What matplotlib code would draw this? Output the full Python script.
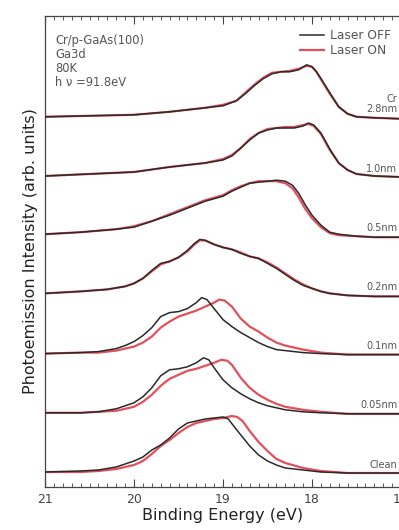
import matplotlib
matplotlib.use("Agg")
import matplotlib.pyplot as plt
from matplotlib.ticker import MultipleLocator

# Ga 3d core-level spectra (intensity above each trace's own baseline, arb. units)
labels = ["Clean", "0.05nm", "0.1nm", "0.2nm", "0.5nm", "1.0nm", "Cr\n2.8nm"]

e_clean_off = [21.0, 20.6, 20.4, 20.2, 20.1, 20.0, 19.9, 19.8, 19.7, 19.6, 19.5, 19.4, 19.3, 19.2, 19.1, 19.0, 18.94, 18.88, 18.8, 18.7, 18.6, 18.5, 18.4, 18.3, 18.1, 17.9, 17.6, 17.3, 17.0]
i_clean_off = [1, 2, 3, 6, 9, 12, 16, 23, 28, 35, 44, 50, 52, 54, 55, 56, 54, 47, 38, 27, 18, 12, 8, 5, 3, 1, 0, 0, 0]
e_clean_on = [21.0, 20.6, 20.4, 20.2, 20.1, 20.0, 19.9, 19.8, 19.7, 19.6, 19.5, 19.4, 19.3, 19.2, 19.1, 19.0, 18.9, 18.84, 18.78, 18.7, 18.6, 18.5, 18.4, 18.3, 18.1, 17.9, 17.6, 17.3, 17.0]
i_clean_on = [1, 1, 2, 4, 6, 8, 12, 19, 27, 33, 40, 46, 50, 52, 54, 55, 57, 56, 52, 42, 31, 22, 14, 10, 5, 2, 0, 0, 0]

e_005_off = [21.0, 20.6, 20.4, 20.2, 20.1, 20.0, 19.9, 19.8, 19.7, 19.6, 19.5, 19.4, 19.3, 19.22, 19.16, 19.1, 19.0, 18.9, 18.8, 18.7, 18.6, 18.5, 18.4, 18.3, 18.1, 17.9, 17.6, 17.3, 17.0]
i_005_off = [1, 1, 2, 5, 8, 11, 17, 26, 38, 44, 45, 47, 51, 56, 54, 46, 34, 26, 20, 15, 11, 8, 6, 4, 2, 1, 0, 0, 0]
e_005_on = [21.0, 20.6, 20.4, 20.2, 20.1, 20.0, 19.9, 19.8, 19.7, 19.6, 19.5, 19.4, 19.3, 19.2, 19.1, 19.02, 18.95, 18.9, 18.8, 18.7, 18.6, 18.5, 18.4, 18.3, 18.1, 17.9, 17.6, 17.3, 17.0]
i_005_on = [1, 1, 2, 3, 5, 7, 12, 19, 28, 35, 39, 43, 45, 48, 51, 54, 53, 49, 36, 26, 19, 14, 10, 7, 4, 2, 0, 0, 0]

e_01_off = [21.0, 20.6, 20.4, 20.2, 20.1, 20.0, 19.9, 19.8, 19.7, 19.6, 19.5, 19.4, 19.3, 19.24, 19.18, 19.1, 19.0, 18.9, 18.8, 18.7, 18.6, 18.5, 18.4, 18.3, 18.1, 17.9, 17.6, 17.3, 17.0]
i_01_off = [1, 2, 3, 6, 9, 13, 19, 27, 38, 42, 43, 46, 52, 57, 55, 46, 35, 28, 22, 17, 12, 8, 5, 4, 2, 1, 0, 0, 0]
e_01_on = [21.0, 20.6, 20.4, 20.2, 20.1, 20.0, 19.9, 19.8, 19.7, 19.6, 19.5, 19.4, 19.3, 19.2, 19.1, 19.04, 18.98, 18.9, 18.8, 18.7, 18.6, 18.5, 18.4, 18.3, 18.1, 17.9, 17.6, 17.3, 17.0]
i_01_on = [1, 2, 2, 4, 6, 8, 12, 18, 27, 33, 38, 41, 44, 48, 52, 55, 54, 48, 36, 28, 23, 17, 12, 9, 5, 2, 0, 0, 0]

e_02 = [21.0, 20.6, 20.3, 20.1, 20.0, 19.9, 19.8, 19.7, 19.6, 19.5, 19.4, 19.32, 19.26, 19.2, 19.1, 19.0, 18.9, 18.8, 18.7, 18.6, 18.5, 18.4, 18.3, 18.2, 18.1, 18.0, 17.9, 17.8, 17.6, 17.3, 17.0]
i_02_off = [2, 4, 6, 9, 12, 17, 25, 32, 34, 38, 45, 52, 56, 55, 51, 48, 46, 42, 39, 37, 32, 27, 21, 15, 10, 7, 4, 2, 0, -1, -1]
i_02_on = [2, 4, 6, 9, 12, 17, 24, 31, 34, 38, 44, 51, 55, 55, 51, 48, 46, 43, 39, 37, 33, 28, 22, 16, 11, 7, 4, 2, 0, -1, -1]

e_05 = [21.0, 20.6, 20.2, 20.0, 19.8, 19.6, 19.4, 19.2, 19.0, 18.9, 18.8, 18.7, 18.6, 18.5, 18.4, 18.3, 18.22, 18.15, 18.08, 18.0, 17.9, 17.8, 17.7, 17.5, 17.3, 17.0]
i_05_off = [2, 4, 7, 9, 15, 21, 28, 35, 40, 45, 49, 53, 54, 55, 56, 55, 51, 43, 32, 21, 11, 4, 2, 0, -1, -1]
i_05_on = [2, 4, 7, 10, 15, 22, 29, 36, 41, 46, 50, 53, 55, 55, 55, 53, 48, 39, 28, 18, 9, 3, 1, 0, -1, -1]

e_10 = [21.0, 20.5, 20.0, 19.6, 19.2, 19.0, 18.9, 18.8, 18.7, 18.6, 18.5, 18.4, 18.3, 18.2, 18.1, 18.04, 17.98, 17.9, 17.8, 17.7, 17.6, 17.5, 17.3, 17.0]
i_10_off = [1, 3, 5, 10, 14, 17, 21, 29, 37, 44, 47, 49, 49, 49, 51, 54, 52, 44, 28, 14, 7, 3, 1, 0]
i_10_on = [1, 3, 5, 10, 14, 18, 22, 29, 38, 44, 48, 49, 50, 50, 52, 53, 51, 43, 27, 14, 7, 3, 1, 0]

e_28 = [21.0, 20.5, 20.0, 19.6, 19.2, 19.0, 18.85, 18.75, 18.65, 18.55, 18.45, 18.35, 18.25, 18.15, 18.06, 18.0, 17.95, 17.89, 17.8, 17.7, 17.6, 17.5, 17.3, 17.0]
i_28_off = [1, 2, 3, 6, 10, 12, 17, 24, 32, 39, 44, 46, 46, 48, 53, 51, 46, 38, 25, 11, 4, 1, 0, -1]
i_28_on = [1, 2, 3, 6, 10, 13, 17, 25, 33, 40, 45, 46, 47, 49, 52, 51, 46, 37, 24, 11, 4, 1, 0, -1]

traces = [
    (e_clean_off, i_clean_off, e_clean_on, i_clean_on),
    (e_005_off, i_005_off, e_005_on, i_005_on),
    (e_01_off, i_01_off, e_01_on, i_01_on),
    (e_02, i_02_off, e_02, i_02_on),
    (e_05, i_05_off, e_05, i_05_on),
    (e_10, i_10_off, e_10, i_10_on),
    (e_28, i_28_off, e_28, i_28_on),
]

tick_values = [21, 20, 19, 18, 17]
tick_labels = ["21", "20", "19", "18", "17"]

W, H = 399, 530
fig = plt.figure(figsize=(W / 100, H / 100), dpi=100)
ax = fig.add_axes([45 / W, (H - 487) / H, (401 - 45) / W, (487 - 16) / H])

base0 = 14.0
step = 59.2
red = "#e2505c"
black = "#2a2a2a"

for k, (eo, io, en, ion) in enumerate(traces):
    off = base0 + k * step
    ax.plot(en, [v + off for v in ion], color=red, lw=1.6, solid_joinstyle="round",
            label="Laser ON" if k == 0 else None, zorder=2)
    ax.plot(eo, [v + off for v in io], color=black, lw=1.1, solid_joinstyle="round",
            label="Laser OFF" if k == 0 else None, zorder=3)
    ax.text(17.04, off + 3.5, labels[k], ha="right", va="bottom", fontsize=7,
            color="#555555", linespacing=1.05)

ax.set_xlim(21, 17)
ax.set_ylim(0, 471)
ax.set_yticks([])
ax.xaxis.set_major_locator(MultipleLocator(1))
ax.xaxis.set_minor_locator(MultipleLocator(0.1))
ax.tick_params(axis="x", which="major", direction="in", length=6, width=0.8,
               top=True, labelsize=9, labelcolor="#444444", color="#444444", pad=4)
ax.tick_params(axis="x", which="minor", direction="in", length=3, width=0.6,
               top=True, color="#444444")
ax.set_xticks(tick_values)
ax.set_xticklabels(tick_labels)
for s in ax.spines.values():
    s.set_color("#444444")
    s.set_linewidth(0.9)

ax.set_xlabel("Binding Energy (eV)", fontsize=11.5, color="#222222", labelpad=2)
ax.set_ylabel("Photoemission Intensity (arb. units)", fontsize=11.5, color="#222222", labelpad=5)

info = "Cr/p-GaAs(100)\nGa3d\n80K\nh \u03bd =91.8eV"
ax.text(0.028, 0.962, info, transform=ax.transAxes, ha="left", va="top",
        fontsize=8.3, color="#555555", linespacing=1.12)

handles, hl = ax.get_legend_handles_labels()
order = [hl.index("Laser OFF"), hl.index("Laser ON")]
ax.legend([handles[i] for i in order], [hl[i] for i in order], loc="upper right",
          bbox_to_anchor=(0.995, 0.99), frameon=False, fontsize=8.8,
          handlelength=2.0, handletextpad=0.45, labelspacing=0.15, labelcolor="#555555",
          borderaxespad=0.3)

fig.savefig("out.png", dpi=100)
